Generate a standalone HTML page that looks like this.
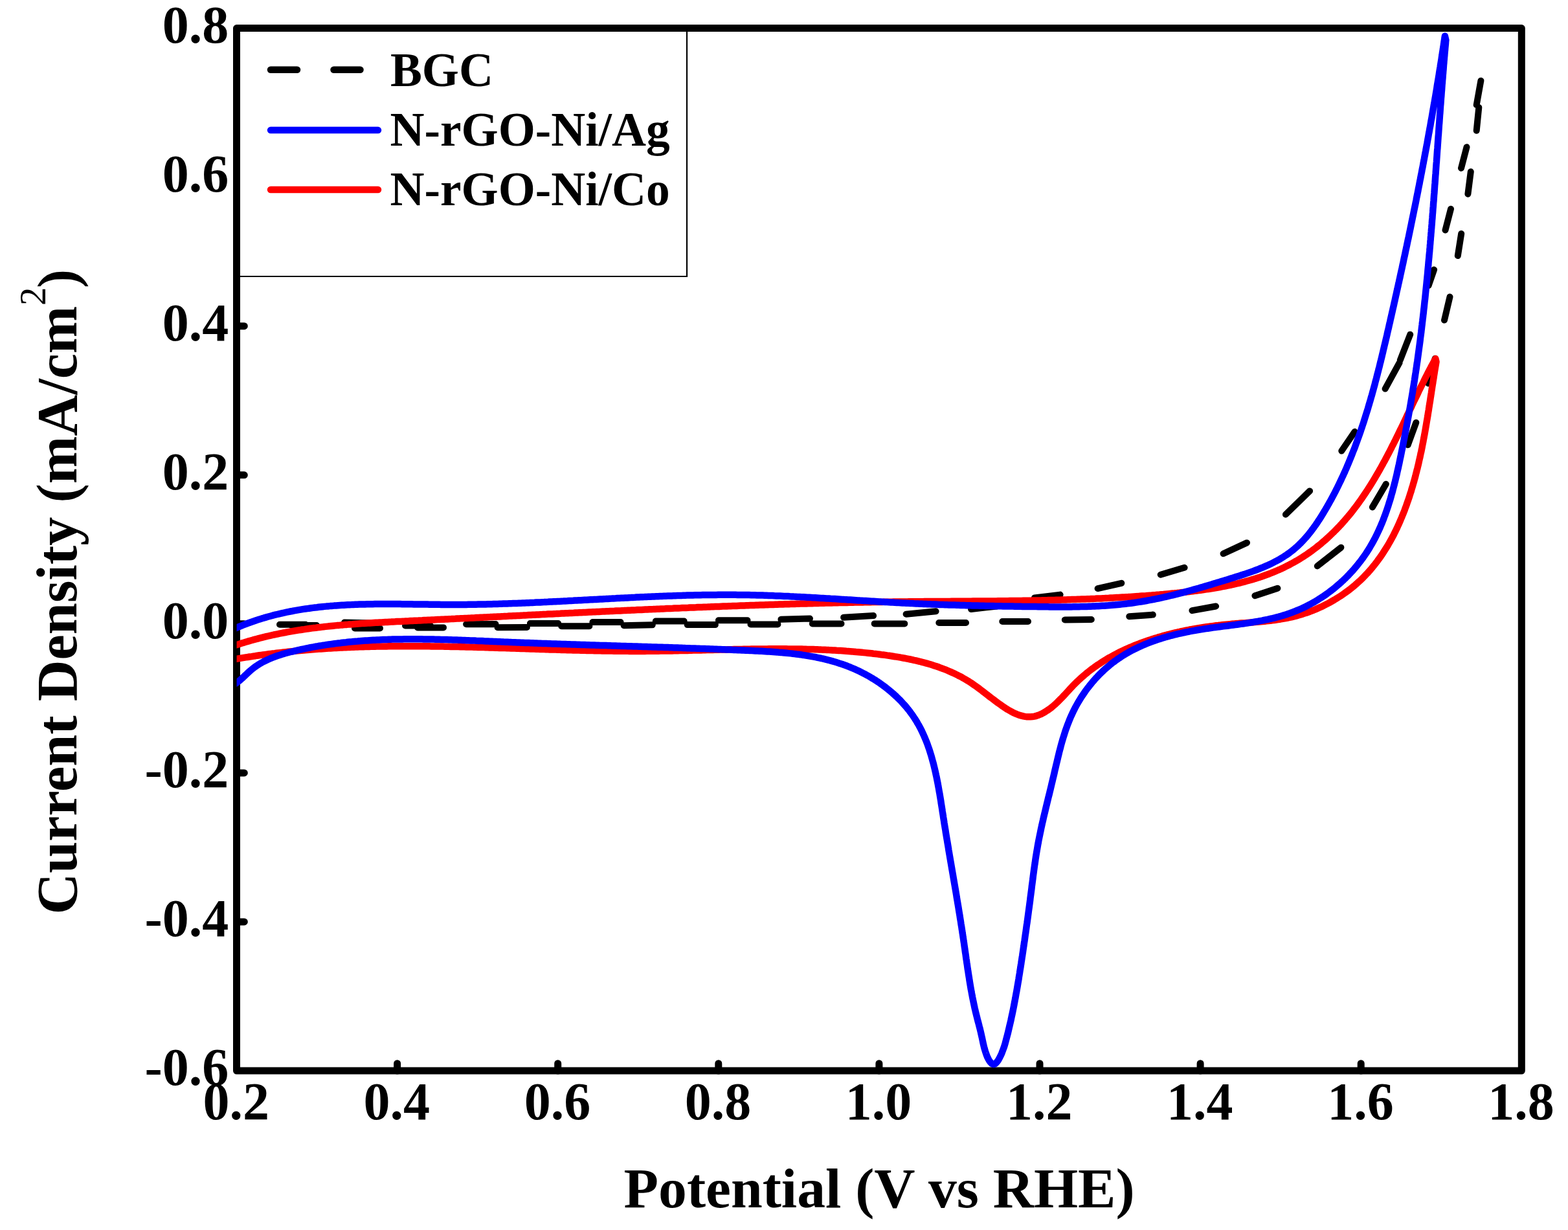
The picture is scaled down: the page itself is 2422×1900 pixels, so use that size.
<!DOCTYPE html><html><head><meta charset="utf-8"><style>html,body{margin:0;padding:0;background:#fff;}svg{display:block}</style></head><body>
<svg width="2422" height="1900" viewBox="0 0 2422 1900">
<rect x="0" y="0" width="2422" height="1900" fill="#fff"/>
<rect x="365.5" y="43.6" width="1984.8" height="1610.4" fill="none" stroke="#000" stroke-width="11.0" stroke-linejoin="round"/>
<g stroke="#000" stroke-width="11.0" stroke-linecap="round"><line x1="613.6" y1="1654.0" x2="613.6" y2="1642.7"/><line x1="861.7" y1="1654.0" x2="861.7" y2="1642.7"/><line x1="1109.8" y1="1654.0" x2="1109.8" y2="1642.7"/><line x1="1357.9" y1="1654.0" x2="1357.9" y2="1642.7"/><line x1="1606.0" y1="1654.0" x2="1606.0" y2="1642.7"/><line x1="1854.1" y1="1654.0" x2="1854.1" y2="1642.7"/><line x1="2102.2" y1="1654.0" x2="2102.2" y2="1642.7"/><line x1="365.5" y1="273.7" x2="377.3" y2="273.7"/><line x1="365.5" y1="503.7" x2="377.3" y2="503.7"/><line x1="365.5" y1="733.8" x2="377.3" y2="733.8"/><line x1="365.5" y1="963.8" x2="377.3" y2="963.8"/><line x1="365.5" y1="1193.9" x2="377.3" y2="1193.9"/><line x1="365.5" y1="1423.9" x2="377.3" y2="1423.9"/></g>
<rect x="371" y="49" width="690.0" height="378.0" fill="#fff"/>
<path d="M365.5,43.6 H1061.0 V427.0 H365.5" fill="none" stroke="#000" stroke-width="2.2"/>
<g stroke-linecap="round" stroke-width="10.5">
<line x1="418" y1="107.8" x2="459" y2="107.8" stroke="#000"/>
<line x1="515.5" y1="107.8" x2="556.5" y2="107.8" stroke="#000"/>
<line x1="418" y1="201.1" x2="584" y2="201.1" stroke="#0000ff"/>
<line x1="418" y1="293" x2="584" y2="293" stroke="#ff0000"/>
</g>
<g font-family="'Liberation Serif','Times New Roman',serif" font-weight="bold" font-size="73.4" fill="#000">
<text x="602.9" y="132.6">BGC</text>
<text x="602.6" y="225.2">N-rGO-Ni/Ag</text>
<text x="602.6" y="317.2">N-rGO-Ni/Co</text>
</g>
<defs><clipPath id="cx"><rect x="365.6" y="0" width="2100" height="1900"/></clipPath></defs>
<g fill="none" stroke-linejoin="round" stroke-linecap="butt" clip-path="url(#cx)">
<path d="M432.0,964.8L472.0,964.8M450.0,966.0L489.0,966.0M532.0,961.6L572.0,962.4M548.0,970.5L587.0,970.5M626.0,966.5L665.0,966.5M645.0,969.4L685.0,969.4M720.1,964.3L765.5,964.0M768.5,969.3L813.9,969.0M818.9,963.1L862.2,963.0M867.2,967.2L910.4,967.2M915.4,961.0L958.6,961.0M963.6,966.2L1007.8,965.2M1012.8,959.6L1056.7,959.6M1061.7,965.1L1104.9,965.1M1109.9,958.2L1154.5,958.2M1159.5,964.4L1201.4,964.4M1206.4,956.8L1251.0,955.6M1254.9,963.4L1299.5,963.4M1303.1,953.7L1349.1,951.1M1350.7,963.4L1397.3,963.4M1399.6,948.7L1445.6,944.3M1450.3,962.0L1492.0,962.0M1500.0,941.0L1540.0,936.5M1548.3,960.0L1588.0,960.0M1598.0,923.4L1637.6,918.6M1644.8,957.5L1685.8,957.0M1695.6,909.1L1732.3,900.8M1744.3,952.2L1780.8,949.6M1792.7,887.7L1829.6,876.8M1841.4,943.2L1878.1,936.5M1889.6,855.3L1926.0,838.4M1938.4,920.3L1973.4,908.7M1985.9,794.8L2023.1,758.4M2034.8,874.4L2071.4,845.7M2072.3,696.5L2092.6,666.8M2119.9,783.4L2140.8,747.8M2139.6,600.6L2161.6,560.4M2162.8,556.3L2178.2,516.7M2174.7,687.3L2187.3,652.7M2206.3,592.2L2216.7,553.8M2206.6,441.0L2215.1,416.6M2231.0,494.6L2239.5,458.6M2232.5,355.5L2241.0,322.8M2251.8,395.1L2257.2,360.9M2257.0,259.8L2265.5,227.2M2267.4,299.7L2271.8,265.2M2280.7,162.1L2287.4,124.7M2280.7,201.8L2284.3,166.0" stroke="#000" stroke-width="10" stroke-linecap="round"/>
<path d="M356.3,999.4L359.2,998.4L362.1,997.4L365.0,996.4L367.9,995.4L370.8,994.5L373.6,993.6L376.5,992.7L379.4,991.8L382.3,990.9L385.2,990.1L388.1,989.3L391.0,988.4L394.0,987.6L396.9,986.9L399.8,986.1L402.7,985.3L405.6,984.6L408.5,983.9L411.4,983.2L414.4,982.5L417.3,981.8L420.2,981.2L423.1,980.5L426.1,979.9L429.0,979.3L431.9,978.7L434.9,978.1L437.8,977.5L440.7,977.0L443.7,976.4L446.6,975.9L449.6,975.4L452.5,974.9L455.5,974.4L458.4,973.9L461.4,973.4L464.3,973.0L467.3,972.5L470.2,972.1L473.2,971.6L476.1,971.2L479.1,970.8L482.0,970.4L485.0,970.0L488.0,969.7L490.9,969.3L493.9,969.0L496.9,968.6L499.8,968.3L502.8,967.9L505.8,967.6L508.7,967.3L511.7,967.0L514.7,966.7L517.7,966.4L520.6,966.1L523.6,965.9L526.6,965.6L529.6,965.4L532.5,965.1L535.5,964.9L538.5,964.6L541.5,964.4L544.5,964.2L547.5,963.9L550.4,963.7L553.4,963.5L556.4,963.3L559.4,963.1L562.4,962.9L565.4,962.7L568.4,962.5L571.3,962.4L574.3,962.2L577.3,962.0L580.3,961.8L583.3,961.7L586.3,961.5L589.3,961.4L592.3,961.2L595.3,961.0L598.3,960.9L601.3,960.7L604.2,960.6L607.2,960.4L610.2,960.3L613.2,960.1L616.2,960.0L619.2,959.9L622.2,959.7L625.2,959.6L628.2,959.4L631.2,959.3L634.2,959.1L637.2,959.0L640.2,958.8L643.2,958.7L646.2,958.6L649.2,958.4L652.2,958.3L655.2,958.1L658.2,958.0L661.2,957.8L664.1,957.7L667.1,957.5L670.1,957.4L673.1,957.2L676.1,957.1L679.1,957.0L682.1,956.8L685.1,956.7L688.1,956.5L691.1,956.4L694.1,956.2L697.1,956.1L700.1,955.9L703.1,955.8L706.1,955.6L709.1,955.5L712.1,955.3L715.1,955.2L718.1,955.0L721.1,954.9L724.1,954.7L727.1,954.6L730.1,954.4L733.1,954.3L736.1,954.1L739.1,954.0L742.1,953.8L745.1,953.7L748.1,953.5L751.1,953.4L754.0,953.2L757.0,953.1L760.0,952.9L763.0,952.8L766.0,952.7L769.0,952.5L772.0,952.4L775.0,952.2L778.0,952.1L781.0,951.9L784.0,951.8L787.0,951.6L790.0,951.5L793.0,951.3L796.0,951.2L799.0,951.0L802.0,950.9L805.0,950.7L808.0,950.6L811.0,950.4L814.0,950.3L817.0,950.1L820.0,950.0L823.0,949.8L826.0,949.7L829.0,949.5L832.0,949.4L835.0,949.2L838.0,949.1L841.0,948.9L844.0,948.8L847.0,948.6L850.0,948.5L853.0,948.4L856.0,948.2L859.0,948.1L862.0,947.9L865.0,947.8L868.0,947.6L871.0,947.5L874.0,947.3L877.0,947.2L880.0,947.0L883.0,946.9L886.0,946.8L889.0,946.6L892.0,946.5L895.0,946.3L898.0,946.2L901.0,946.0L904.0,945.9L907.0,945.7L910.0,945.6L913.0,945.5L916.0,945.3L919.0,945.2L922.0,945.0L924.9,944.9L927.9,944.7L930.9,944.6L933.9,944.5L936.9,944.3L939.9,944.2L942.9,944.0L945.9,943.9L948.9,943.8L951.9,943.6L954.9,943.5L957.9,943.4L960.9,943.2L963.9,943.1L966.9,942.9L969.9,942.8L972.9,942.7L975.9,942.5L978.9,942.4L981.9,942.3L984.9,942.1L987.9,942.0L990.9,941.9L993.9,941.7L996.9,941.6L999.9,941.5L1002.9,941.3L1005.9,941.2L1008.9,941.1L1011.9,940.9L1014.9,940.8L1017.9,940.7L1020.9,940.5L1023.9,940.4L1026.9,940.3L1029.9,940.1L1032.9,940.0L1035.9,939.9L1038.9,939.8L1041.9,939.6L1044.9,939.5L1047.9,939.4L1050.9,939.3L1053.9,939.1L1056.9,939.0L1059.9,938.9L1062.9,938.8L1065.9,938.6L1068.9,938.5L1071.9,938.4L1074.9,938.3L1077.9,938.1L1080.9,938.0L1083.9,937.9L1086.9,937.8L1089.9,937.7L1092.9,937.6L1095.9,937.4L1098.8,937.3L1101.8,937.2L1104.8,937.1L1107.8,937.0L1110.8,936.9L1113.8,936.7L1116.8,936.6L1119.8,936.5L1122.8,936.4L1125.8,936.3L1128.8,936.2L1131.8,936.1L1134.8,936.0L1137.8,935.9L1140.8,935.7L1143.8,935.6L1146.8,935.5L1149.8,935.4L1152.8,935.3L1155.8,935.2L1158.8,935.1L1161.8,935.0L1164.8,934.9L1167.8,934.8L1170.8,934.7L1173.8,934.6L1176.8,934.5L1179.8,934.4L1182.8,934.3L1185.8,934.2L1188.8,934.1L1191.7,934.0L1194.7,933.9L1197.7,933.8L1200.7,933.7L1203.7,933.6L1206.7,933.5L1209.7,933.4L1212.7,933.3L1215.7,933.3L1218.7,933.2L1221.7,933.1L1224.7,933.0L1227.7,932.9L1230.7,932.8L1233.7,932.7L1236.7,932.6L1239.7,932.6L1242.7,932.5L1245.7,932.4L1248.7,932.3L1251.6,932.2L1254.6,932.2L1257.6,932.1L1260.6,932.0L1263.6,931.9L1266.6,931.8L1269.6,931.8L1272.6,931.7L1275.6,931.6L1278.6,931.5L1281.6,931.5L1284.6,931.4L1287.6,931.3L1290.6,931.3L1293.6,931.2L1296.6,931.1L1299.5,931.1L1302.5,931.0L1305.5,930.9L1308.5,930.9L1311.5,930.8L1314.5,930.7L1317.5,930.7L1320.5,930.6L1323.5,930.6L1326.5,930.5L1329.5,930.4L1332.5,930.4L1335.5,930.3L1338.4,930.3L1341.4,930.2L1344.4,930.2L1347.4,930.1L1350.4,930.1L1353.4,930.0L1356.4,930.0L1359.4,929.9L1362.4,929.9L1365.4,929.8L1368.4,929.8L1371.3,929.7L1374.3,929.7L1377.3,929.7L1380.3,929.6L1383.3,929.6L1386.3,929.5L1389.3,929.5L1392.3,929.5L1395.3,929.4L1398.3,929.4L1401.2,929.4L1404.2,929.3L1407.2,929.3L1410.2,929.3L1413.2,929.3L1416.2,929.2L1419.2,929.2L1422.2,929.2L1425.2,929.2L1428.1,929.1L1431.1,929.1L1434.1,929.1L1437.1,929.1L1440.1,929.0L1443.1,929.0L1446.1,929.0L1449.1,929.0L1452.1,929.0L1455.0,928.9L1458.0,928.9L1461.0,928.9L1464.0,928.9L1467.0,928.9L1470.0,928.8L1473.0,928.8L1476.0,928.8L1478.9,928.8L1481.9,928.8L1484.9,928.7L1487.9,928.7L1490.9,928.7L1493.9,928.7L1496.9,928.7L1499.9,928.7L1502.9,928.6L1505.8,928.6L1508.8,928.6L1511.8,928.6L1514.8,928.5L1517.8,928.5L1520.8,928.5L1523.8,928.5L1526.8,928.5L1529.8,928.4L1532.7,928.4L1535.7,928.4L1538.7,928.4L1541.7,928.3L1544.7,928.3L1547.7,928.3L1550.7,928.2L1553.7,928.2L1556.7,928.2L1559.7,928.1L1562.7,928.1L1565.6,928.1L1568.6,928.0L1571.6,928.0L1574.6,927.9L1577.6,927.9L1580.6,927.8L1583.6,927.8L1586.6,927.8L1589.6,927.7L1592.6,927.7L1595.6,927.6L1598.6,927.5L1601.6,927.5L1604.6,927.4L1607.6,927.4L1610.5,927.3L1613.5,927.3L1616.5,927.2L1619.5,927.1L1622.5,927.0L1625.5,927.0L1628.5,926.9L1631.5,926.8L1634.5,926.7L1637.5,926.7L1640.5,926.6L1643.5,926.5L1646.5,926.4L1649.5,926.3L1652.5,926.2L1655.5,926.1L1658.5,926.0L1661.5,925.9L1664.5,925.8L1667.5,925.7L1670.5,925.6L1673.5,925.5L1676.5,925.4L1679.5,925.3L1682.5,925.2L1685.5,925.0L1688.5,924.9L1691.6,924.8L1694.6,924.6L1697.6,924.5L1700.6,924.4L1703.6,924.2L1706.6,924.1L1709.6,923.9L1712.6,923.8L1715.6,923.6L1718.6,923.5L1721.6,923.3L1724.6,923.1L1727.7,923.0L1730.7,922.8L1733.7,922.6L1736.7,922.4L1739.7,922.2L1742.7,922.1L1745.7,921.9L1748.7,921.7L1751.8,921.5L1754.8,921.3L1757.8,921.1L1760.8,920.8L1763.8,920.6L1766.8,920.4L1769.9,920.2L1772.9,919.9L1775.9,919.7L1778.9,919.5L1781.9,919.2L1785.0,919.0L1788.0,918.7L1791.0,918.5L1794.0,918.2L1797.1,918.0L1800.1,917.7L1803.1,917.4L1806.1,917.1L1809.2,916.8L1812.2,916.6L1815.2,916.3L1818.2,916.0L1821.3,915.6L1824.3,915.3L1827.3,915.0L1830.3,914.7L1833.4,914.3L1836.4,914.0L1839.4,913.6L1842.4,913.3L1845.4,912.9L1848.4,912.5L1851.4,912.1L1854.4,911.7L1857.4,911.3L1860.4,910.8L1863.4,910.4L1866.4,910.0L1869.4,909.5L1872.4,909.0L1875.4,908.5L1878.3,908.0L1881.3,907.5L1884.3,907.0L1887.2,906.4L1890.2,905.9L1893.1,905.3L1896.1,904.7L1899.0,904.1L1901.9,903.5L1904.8,902.8L1907.8,902.2L1910.7,901.5L1913.6,900.8L1916.4,900.1L1919.3,899.3L1922.2,898.6L1925.1,897.8L1927.9,897.0L1930.8,896.2L1933.6,895.4L1936.5,894.6L1939.3,893.7L1942.1,892.8L1944.9,891.9L1947.7,891.0L1950.5,890.0L1953.2,889.0L1956.0,888.0L1958.8,887.0L1961.5,886.0L1964.2,884.9L1966.9,883.8L1969.7,882.7L1972.3,881.5L1975.0,880.4L1977.7,879.2L1980.4,877.9L1983.0,876.7L1985.6,875.4L1988.3,874.1L1990.9,872.8L1993.4,871.4L1996.0,870.0L1998.6,868.6L2001.1,867.2L2003.7,865.7L2006.2,864.2L2008.7,862.7L2011.2,861.1L2013.7,859.5L2016.1,857.9L2018.6,856.3L2021.0,854.6L2023.4,852.9L2025.8,851.2L2028.2,849.4L2030.6,847.6L2032.9,845.8L2035.2,844.0L2037.6,842.1L2039.9,840.3L2042.1,838.3L2044.4,836.4L2046.7,834.5L2048.9,832.5L2051.1,830.5L2053.3,828.4L2055.5,826.4L2057.6,824.3L2059.8,822.2L2061.9,820.1L2064.0,818.0L2066.1,815.8L2068.2,813.7L2070.2,811.5L2072.3,809.3L2074.3,807.0L2076.3,804.8L2078.3,802.5L2080.2,800.2L2082.2,797.9L2084.1,795.6L2086.0,793.3L2087.9,790.9L2089.8,788.5L2091.6,786.1L2093.5,783.7L2095.3,781.3L2097.1,778.9L2098.9,776.4L2100.6,774.0L2102.4,771.5L2104.1,769.0L2105.8,766.5L2107.5,764.0L2109.2,761.5L2110.9,758.9L2112.6,756.4L2114.2,753.8L2115.8,751.3L2117.5,748.7L2119.1,746.1L2120.7,743.5L2122.2,740.9L2123.8,738.3L2125.3,735.7L2126.9,733.0L2128.4,730.4L2129.9,727.8L2131.4,725.1L2132.9,722.5L2134.4,719.8L2135.9,717.1L2137.3,714.4L2138.8,711.8L2140.2,709.1L2141.7,706.4L2143.1,703.7L2144.5,701.0L2145.9,698.3L2147.3,695.6L2148.7,692.9L2150.0,690.2L2151.4,687.5L2152.8,684.8L2154.1,682.1L2155.5,679.4L2156.8,676.7L2158.2,674.0L2159.5,671.2L2160.8,668.5L2162.1,665.8L2163.4,663.1L2164.8,660.4L2166.1,657.7L2167.4,655.0L2168.7,652.3L2170.0,649.5L2171.3,646.8L2172.5,644.1L2173.8,641.4L2175.1,638.7L2176.4,636.0L2177.7,633.3L2179.0,630.6L2180.3,627.9L2181.5,625.2L2182.8,622.5L2184.1,619.8L2185.4,617.1L2186.7,614.4L2188.0,611.8L2189.3,609.1L2190.6,606.4L2191.8,603.7L2193.1,601.1L2194.4,598.4L2195.7,595.8L2197.1,593.1L2198.4,590.5L2199.7,587.8L2201.0,585.2L2202.3,582.6L2203.7,580.0L2205.0,577.3L2206.3,574.7L2207.7,572.1L2209.1,569.5L2210.4,566.9L2211.8,564.4L2213.2,561.8L2214.6,559.2L2215.9,556.6L2217.4,554.1L2218.5,558.9L2218.0,561.9L2217.5,565.0L2217.0,568.0L2216.5,571.0L2216.0,574.0L2215.5,577.1L2215.0,580.1L2214.6,583.1L2214.1,586.1L2213.6,589.0L2213.2,592.0L2212.7,595.0L2212.2,598.0L2211.8,600.9L2211.3,603.9L2210.9,606.8L2210.4,609.8L2210.0,612.7L2209.5,615.7L2209.1,618.6L2208.6,621.6L2208.1,624.5L2207.7,627.4L2207.2,630.3L2206.8,633.3L2206.3,636.2L2205.8,639.1L2205.4,642.0L2204.9,644.9L2204.4,647.8L2203.9,650.7L2203.4,653.7L2202.9,656.6L2202.4,659.5L2201.9,662.4L2201.4,665.3L2200.9,668.2L2200.4,671.1L2199.8,674.0L2199.3,676.9L2198.7,679.8L2198.2,682.8L2197.6,685.7L2197.0,688.6L2196.5,691.5L2195.9,694.4L2195.3,697.4L2194.6,700.3L2194.0,703.2L2193.4,706.2L2192.7,709.1L2192.0,712.0L2191.4,715.0L2190.7,717.9L2190.0,720.9L2189.3,723.8L2188.5,726.7L2187.8,729.7L2187.0,732.6L2186.3,735.6L2185.5,738.5L2184.7,741.4L2183.9,744.4L2183.0,747.3L2182.2,750.2L2181.3,753.1L2180.4,756.1L2179.6,759.0L2178.6,761.9L2177.7,764.8L2176.8,767.7L2175.8,770.6L2174.8,773.5L2173.8,776.3L2172.8,779.2L2171.8,782.1L2170.7,784.9L2169.7,787.8L2168.6,790.6L2167.5,793.4L2166.3,796.2L2165.2,799.0L2164.0,801.8L2162.8,804.6L2161.6,807.4L2160.4,810.1L2159.1,812.9L2157.9,815.6L2156.6,818.3L2155.3,821.0L2153.9,823.7L2152.6,826.4L2151.2,829.0L2149.8,831.7L2148.3,834.3L2146.9,836.9L2145.4,839.5L2143.9,842.1L2142.4,844.7L2140.8,847.2L2139.2,849.7L2137.6,852.2L2136.0,854.7L2134.3,857.2L2132.7,859.6L2131.0,862.0L2129.2,864.4L2127.5,866.8L2125.7,869.2L2123.9,871.5L2122.0,873.8L2120.2,876.1L2118.3,878.4L2116.3,880.7L2114.4,882.9L2112.4,885.1L2110.4,887.2L2108.3,889.4L2106.3,891.5L2104.2,893.6L2102.0,895.7L2099.9,897.7L2097.7,899.7L2095.4,901.7L2093.2,903.7L2090.9,905.6L2088.6,907.5L2086.3,909.4L2083.9,911.2L2081.5,913.0L2079.1,914.8L2076.6,916.6L2074.2,918.3L2071.7,920.0L2069.1,921.6L2066.6,923.2L2064.0,924.8L2061.4,926.4L2058.8,927.9L2056.2,929.4L2053.6,930.9L2050.9,932.3L2048.2,933.7L2045.5,935.1L2042.8,936.4L2040.1,937.7L2037.3,938.9L2034.6,940.1L2031.8,941.3L2029.0,942.5L2026.2,943.6L2023.4,944.7L2020.5,945.7L2017.7,946.7L2014.9,947.6L2012.0,948.6L2009.1,949.4L2006.3,950.3L2003.4,951.1L2000.5,951.9L1997.6,952.6L1994.7,953.3L1991.8,953.9L1988.9,954.5L1986.0,955.1L1983.0,955.7L1980.1,956.2L1977.2,956.7L1974.2,957.1L1971.3,957.5L1968.3,958.0L1965.4,958.3L1962.4,958.7L1959.5,959.0L1956.5,959.4L1953.5,959.7L1950.6,960.0L1947.6,960.2L1944.6,960.5L1941.6,960.8L1938.7,961.0L1935.7,961.3L1932.7,961.5L1929.7,961.7L1926.7,961.9L1923.7,962.2L1920.7,962.4L1917.7,962.6L1914.7,962.8L1911.7,963.1L1908.7,963.3L1905.7,963.6L1902.7,963.8L1899.7,964.1L1896.7,964.4L1893.7,964.7L1890.7,965.0L1887.7,965.3L1884.7,965.6L1881.7,966.0L1878.7,966.3L1875.7,966.7L1872.7,967.1L1869.7,967.5L1866.7,967.9L1863.7,968.3L1860.7,968.7L1857.7,969.2L1854.7,969.7L1851.7,970.2L1848.7,970.7L1845.7,971.2L1842.7,971.7L1839.8,972.3L1836.8,972.8L1833.8,973.4L1830.9,974.0L1827.9,974.6L1825.0,975.2L1822.0,975.9L1819.1,976.5L1816.1,977.2L1813.2,977.9L1810.3,978.6L1807.4,979.4L1804.4,980.1L1801.5,980.9L1798.6,981.6L1795.7,982.4L1792.9,983.3L1790.0,984.1L1787.1,985.0L1784.2,985.8L1781.4,986.7L1778.5,987.6L1775.7,988.6L1772.9,989.5L1770.1,990.5L1767.3,991.5L1764.5,992.5L1761.7,993.5L1758.9,994.6L1756.1,995.7L1753.4,996.7L1750.6,997.9L1747.9,999.0L1745.1,1000.2L1742.4,1001.3L1739.7,1002.5L1737.0,1003.8L1734.4,1005.0L1731.7,1006.3L1729.0,1007.6L1726.4,1008.9L1723.8,1010.3L1721.2,1011.7L1718.6,1013.1L1716.0,1014.5L1713.4,1015.9L1710.8,1017.4L1708.3,1018.9L1705.8,1020.5L1703.3,1022.0L1700.8,1023.6L1698.3,1025.3L1695.8,1026.9L1693.4,1028.6L1691.0,1030.3L1688.6,1032.1L1686.2,1033.8L1683.8,1035.6L1681.4,1037.5L1679.1,1039.4L1676.8,1041.3L1674.5,1043.2L1672.2,1045.2L1670.0,1047.2L1667.7,1049.2L1665.5,1051.3L1663.3,1053.4L1661.1,1055.5L1658.9,1057.7L1656.8,1059.9L1654.7,1062.2L1652.6,1064.4L1650.5,1066.7L1648.4,1069.0L1646.3,1071.3L1644.1,1073.6L1642.0,1075.9L1639.9,1078.1L1637.7,1080.3L1635.5,1082.5L1633.3,1084.7L1631.1,1086.8L1628.8,1088.9L1626.5,1090.9L1624.1,1092.9L1621.6,1094.7L1619.2,1096.5L1616.6,1098.2L1614.0,1099.9L1611.3,1101.4L1608.6,1102.8L1605.8,1104.0L1603.1,1105.1L1600.3,1106.0L1597.5,1106.6L1594.7,1107.1L1591.9,1107.3L1589.1,1107.3L1586.3,1107.2L1583.5,1106.9L1580.8,1106.4L1578.0,1105.7L1575.3,1104.9L1572.5,1104.0L1569.8,1102.9L1567.1,1101.7L1564.4,1100.4L1561.7,1099.0L1559.1,1097.5L1556.4,1096.0L1553.8,1094.3L1551.2,1092.6L1548.6,1090.9L1546.1,1089.1L1543.5,1087.3L1541.0,1085.5L1538.5,1083.6L1536.1,1081.8L1533.6,1079.9L1531.2,1078.1L1528.7,1076.2L1526.3,1074.3L1523.9,1072.5L1521.5,1070.6L1519.1,1068.8L1516.7,1066.9L1514.3,1065.1L1511.9,1063.3L1509.5,1061.5L1507.1,1059.8L1504.6,1058.1L1502.2,1056.4L1499.7,1054.7L1497.2,1053.1L1494.7,1051.6L1492.2,1050.0L1489.6,1048.5L1487.0,1047.1L1484.5,1045.6L1481.8,1044.3L1479.2,1042.9L1476.6,1041.6L1473.9,1040.3L1471.2,1039.1L1468.5,1037.9L1465.8,1036.7L1463.1,1035.5L1460.4,1034.4L1457.6,1033.4L1454.8,1032.3L1452.1,1031.3L1449.3,1030.3L1446.4,1029.3L1443.6,1028.4L1440.8,1027.5L1437.9,1026.6L1435.1,1025.7L1432.2,1024.9L1429.3,1024.1L1426.4,1023.3L1423.6,1022.6L1420.6,1021.8L1417.7,1021.1L1414.8,1020.4L1411.9,1019.8L1408.9,1019.1L1406.0,1018.5L1403.0,1017.9L1400.1,1017.3L1397.1,1016.7L1394.1,1016.2L1391.2,1015.7L1388.2,1015.1L1385.2,1014.6L1382.2,1014.2L1379.2,1013.7L1376.2,1013.2L1373.2,1012.8L1370.2,1012.4L1367.2,1011.9L1364.2,1011.5L1361.2,1011.2L1358.2,1010.8L1355.2,1010.4L1352.2,1010.0L1349.3,1009.7L1346.3,1009.3L1343.3,1009.0L1340.3,1008.7L1337.3,1008.4L1334.3,1008.1L1331.3,1007.8L1328.3,1007.5L1325.3,1007.2L1322.3,1007.0L1319.3,1006.7L1316.3,1006.4L1313.3,1006.2L1310.3,1006.0L1307.3,1005.8L1304.3,1005.5L1301.3,1005.3L1298.3,1005.1L1295.3,1004.9L1292.3,1004.8L1289.3,1004.6L1286.3,1004.4L1283.4,1004.2L1280.4,1004.1L1277.4,1003.9L1274.4,1003.8L1271.4,1003.7L1268.4,1003.6L1265.4,1003.4L1262.4,1003.3L1259.4,1003.2L1256.4,1003.1L1253.4,1003.0L1250.4,1002.9L1247.4,1002.9L1244.5,1002.8L1241.5,1002.7L1238.5,1002.6L1235.5,1002.6L1232.5,1002.5L1229.5,1002.5L1226.5,1002.4L1223.5,1002.4L1220.5,1002.4L1217.5,1002.4L1214.5,1002.3L1211.6,1002.3L1208.6,1002.3L1205.6,1002.3L1202.6,1002.3L1199.6,1002.3L1196.6,1002.3L1193.6,1002.3L1190.6,1002.3L1187.6,1002.3L1184.7,1002.4L1181.7,1002.4L1178.7,1002.4L1175.7,1002.4L1172.7,1002.5L1169.7,1002.5L1166.7,1002.5L1163.7,1002.6L1160.7,1002.6L1157.7,1002.7L1154.8,1002.7L1151.8,1002.8L1148.8,1002.8L1145.8,1002.9L1142.8,1002.9L1139.8,1003.0L1136.8,1003.1L1133.8,1003.1L1130.8,1003.2L1127.8,1003.3L1124.9,1003.3L1121.9,1003.4L1118.9,1003.5L1115.9,1003.5L1112.9,1003.6L1109.9,1003.7L1106.9,1003.8L1103.9,1003.8L1100.9,1003.9L1097.9,1004.0L1095.0,1004.1L1092.0,1004.1L1089.0,1004.2L1086.0,1004.3L1083.0,1004.4L1080.0,1004.4L1077.0,1004.5L1074.0,1004.6L1071.0,1004.6L1068.0,1004.7L1065.0,1004.8L1062.1,1004.9L1059.1,1004.9L1056.1,1005.0L1053.1,1005.1L1050.1,1005.1L1047.1,1005.2L1044.1,1005.2L1041.1,1005.3L1038.1,1005.4L1035.1,1005.4L1032.1,1005.5L1029.1,1005.5L1026.1,1005.6L1023.1,1005.6L1020.2,1005.6L1017.2,1005.7L1014.2,1005.7L1011.2,1005.7L1008.2,1005.8L1005.2,1005.8L1002.2,1005.8L999.2,1005.8L996.2,1005.9L993.2,1005.9L990.2,1005.9L987.2,1005.9L984.2,1005.9L981.2,1005.9L978.2,1005.9L975.2,1005.9L972.2,1005.9L969.2,1005.8L966.2,1005.8L963.2,1005.8L960.2,1005.8L957.2,1005.8L954.2,1005.7L951.2,1005.7L948.2,1005.7L945.2,1005.6L942.2,1005.6L939.2,1005.5L936.2,1005.5L933.2,1005.4L930.2,1005.4L927.2,1005.3L924.2,1005.3L921.2,1005.2L918.2,1005.2L915.2,1005.1L912.2,1005.0L909.2,1005.0L906.2,1004.9L903.2,1004.8L900.2,1004.8L897.2,1004.7L894.2,1004.6L891.2,1004.6L888.2,1004.5L885.2,1004.4L882.2,1004.3L879.2,1004.2L876.2,1004.2L873.2,1004.1L870.2,1004.0L867.2,1003.9L864.2,1003.8L861.2,1003.7L858.2,1003.6L855.2,1003.5L852.2,1003.5L849.2,1003.4L846.2,1003.3L843.2,1003.2L840.2,1003.1L837.2,1003.0L834.2,1002.9L831.2,1002.8L828.2,1002.7L825.1,1002.6L822.1,1002.5L819.1,1002.4L816.1,1002.3L813.1,1002.2L810.1,1002.1L807.1,1002.0L804.1,1001.9L801.1,1001.8L798.1,1001.7L795.1,1001.6L792.1,1001.5L789.1,1001.4L786.1,1001.3L783.1,1001.2L780.1,1001.1L777.1,1001.0L774.1,1000.9L771.1,1000.9L768.1,1000.8L765.1,1000.7L762.1,1000.6L759.1,1000.5L756.1,1000.4L753.1,1000.3L750.1,1000.2L747.1,1000.1L744.1,1000.0L741.1,1000.0L738.1,999.9L735.1,999.8L732.1,999.7L729.1,999.6L726.1,999.6L723.1,999.5L720.1,999.4L717.1,999.3L714.1,999.3L711.1,999.2L708.1,999.1L705.1,999.0L702.1,999.0L699.1,998.9L696.1,998.9L693.1,998.8L690.1,998.7L687.1,998.7L684.1,998.6L681.1,998.6L678.1,998.5L675.1,998.5L672.1,998.5L669.1,998.4L666.1,998.4L663.1,998.3L660.1,998.3L657.1,998.3L654.1,998.3L651.1,998.2L648.1,998.2L645.1,998.2L642.1,998.2L639.1,998.2L636.1,998.2L633.1,998.2L630.1,998.2L627.1,998.2L624.1,998.2L621.1,998.2L618.1,998.2L615.1,998.2L612.1,998.2L609.1,998.2L606.1,998.3L603.2,998.3L600.2,998.3L597.2,998.4L594.2,998.4L591.2,998.5L588.2,998.5L585.2,998.6L582.2,998.6L579.2,998.7L576.2,998.8L573.2,998.8L570.2,998.9L567.3,999.0L564.3,999.1L561.3,999.2L558.3,999.2L555.3,999.3L552.3,999.4L549.3,999.6L546.3,999.7L543.4,999.8L540.4,999.9L537.4,1000.0L534.4,1000.2L531.4,1000.3L528.4,1000.4L525.4,1000.6L522.5,1000.8L519.5,1000.9L516.5,1001.1L513.5,1001.2L510.5,1001.4L507.5,1001.6L504.6,1001.8L501.6,1002.0L498.6,1002.2L495.6,1002.4L492.6,1002.6L489.7,1002.8L486.7,1003.0L483.7,1003.3L480.7,1003.5L477.7,1003.7L474.8,1004.0L471.8,1004.2L468.8,1004.5L465.8,1004.7L462.9,1005.0L459.9,1005.3L456.9,1005.6L453.9,1005.9L451.0,1006.2L448.0,1006.5L445.0,1006.8L442.0,1007.1L439.1,1007.4L436.1,1007.8L433.1,1008.1L430.2,1008.4L427.2,1008.8L424.2,1009.2L421.3,1009.5L418.3,1009.9L415.3,1010.3L412.4,1010.7L409.4,1011.1L406.4,1011.5L403.5,1011.9L400.5,1012.3L397.5,1012.7L394.6,1013.2L391.6,1013.6L388.6,1014.1L385.7,1014.5L382.7,1015.0L379.8,1015.4L376.8,1015.9L373.8,1016.4L370.9,1016.9L367.9,1017.4L365.0,1017.9L362.0,1018.5L359.0,1019.0L356.1,1019.5" stroke="#ff0000" stroke-width="10.5"/>
<path d="M359.5,972.3L362.3,971.1L365.1,969.8L368.0,968.6L370.8,967.5L373.6,966.3L376.5,965.2L379.3,964.1L382.1,963.0L385.0,962.0L387.8,961.0L390.7,960.0L393.5,959.0L396.4,958.0L399.3,957.1L402.1,956.2L405.0,955.3L407.9,954.4L410.7,953.6L413.6,952.8L416.5,952.0L419.4,951.2L422.3,950.4L425.2,949.7L428.1,949.0L431.0,948.3L433.9,947.6L436.8,947.0L439.7,946.3L442.6,945.7L445.5,945.1L448.4,944.5L451.3,944.0L454.3,943.4L457.2,942.9L460.1,942.4L463.0,941.9L466.0,941.4L468.9,940.9L471.8,940.5L474.8,940.1L477.7,939.7L480.7,939.3L483.6,938.9L486.6,938.5L489.5,938.2L492.5,937.8L495.4,937.5L498.4,937.2L501.3,936.9L504.3,936.6L507.3,936.4L510.2,936.1L513.2,935.9L516.2,935.6L519.1,935.4L522.1,935.2L525.1,935.0L528.1,934.8L531.0,934.7L534.0,934.5L537.0,934.3L540.0,934.2L543.0,934.1L546.0,933.9L548.9,933.8L551.9,933.7L554.9,933.6L557.9,933.5L560.9,933.5L563.9,933.4L566.9,933.3L569.9,933.3L572.9,933.2L575.9,933.2L578.9,933.1L581.9,933.1L584.9,933.1L587.9,933.1L590.9,933.0L593.9,933.0L596.9,933.0L599.9,933.0L602.9,933.0L605.9,933.1L609.0,933.1L612.0,933.1L615.0,933.1L618.0,933.1L621.0,933.2L624.0,933.2L627.0,933.2L630.0,933.3L633.0,933.3L636.1,933.3L639.1,933.4L642.1,933.4L645.1,933.4L648.1,933.5L651.1,933.5L654.1,933.6L657.2,933.6L660.2,933.6L663.2,933.7L666.2,933.7L669.2,933.8L672.2,933.8L675.2,933.8L678.3,933.8L681.3,933.9L684.3,933.9L687.3,933.9L690.3,933.9L693.3,933.9L696.3,933.9L699.3,934.0L702.3,934.0L705.4,933.9L708.4,933.9L711.4,933.9L714.4,933.9L717.4,933.9L720.4,933.9L723.4,933.8L726.4,933.8L729.4,933.8L732.4,933.7L735.4,933.7L738.4,933.6L741.4,933.6L744.4,933.5L747.4,933.4L750.4,933.4L753.4,933.3L756.4,933.2L759.4,933.2L762.4,933.1L765.4,933.0L768.4,932.9L771.4,932.8L774.4,932.7L777.4,932.6L780.4,932.5L783.4,932.4L786.4,932.3L789.4,932.2L792.4,932.1L795.4,932.0L798.4,931.9L801.4,931.8L804.4,931.7L807.4,931.5L810.4,931.4L813.4,931.3L816.4,931.2L819.4,931.0L822.4,930.9L825.4,930.8L828.4,930.6L831.3,930.5L834.3,930.4L837.3,930.2L840.3,930.1L843.3,929.9L846.3,929.8L849.3,929.6L852.3,929.5L855.3,929.3L858.3,929.2L861.2,929.0L864.2,928.9L867.2,928.7L870.2,928.6L873.2,928.4L876.2,928.3L879.2,928.1L882.2,927.9L885.2,927.8L888.1,927.6L891.1,927.5L894.1,927.3L897.1,927.2L900.1,927.0L903.1,926.8L906.1,926.7L909.1,926.5L912.0,926.3L915.0,926.2L918.0,926.0L921.0,925.9L924.0,925.7L927.0,925.5L930.0,925.4L932.9,925.2L935.9,925.1L938.9,924.9L941.9,924.7L944.9,924.6L947.9,924.4L950.9,924.3L953.8,924.1L956.8,924.0L959.8,923.8L962.8,923.7L965.8,923.5L968.8,923.4L971.8,923.2L974.7,923.1L977.7,922.9L980.7,922.8L983.7,922.6L986.7,922.5L989.7,922.3L992.7,922.2L995.6,922.1L998.6,921.9L1001.6,921.8L1004.6,921.7L1007.6,921.5L1010.6,921.4L1013.6,921.3L1016.5,921.2L1019.5,921.0L1022.5,920.9L1025.5,920.8L1028.5,920.7L1031.5,920.6L1034.5,920.5L1037.4,920.4L1040.4,920.3L1043.4,920.2L1046.4,920.1L1049.4,920.0L1052.4,919.9L1055.4,919.8L1058.4,919.7L1061.3,919.6L1064.3,919.6L1067.3,919.5L1070.3,919.4L1073.3,919.3L1076.3,919.3L1079.3,919.2L1082.3,919.2L1085.3,919.1L1088.2,919.1L1091.2,919.0L1094.2,919.0L1097.2,918.9L1100.2,918.9L1103.2,918.9L1106.2,918.9L1109.2,918.8L1112.2,918.8L1115.2,918.8L1118.2,918.8L1121.2,918.8L1124.2,918.8L1127.1,918.8L1130.1,918.8L1133.1,918.8L1136.1,918.8L1139.1,918.9L1142.1,918.9L1145.1,918.9L1148.1,919.0L1151.1,919.0L1154.1,919.1L1157.1,919.1L1160.1,919.2L1163.1,919.2L1166.1,919.3L1169.1,919.4L1172.1,919.5L1175.1,919.6L1178.1,919.6L1181.1,919.7L1184.1,919.8L1187.1,919.9L1190.1,920.0L1193.1,920.1L1196.1,920.3L1199.1,920.4L1202.1,920.5L1205.1,920.6L1208.1,920.7L1211.1,920.9L1214.1,921.0L1217.1,921.1L1220.1,921.3L1223.1,921.4L1226.1,921.6L1229.1,921.7L1232.1,921.9L1235.1,922.0L1238.1,922.2L1241.1,922.3L1244.1,922.5L1247.1,922.7L1250.1,922.8L1253.1,923.0L1256.1,923.2L1259.2,923.3L1262.2,923.5L1265.2,923.7L1268.2,923.9L1271.2,924.0L1274.2,924.2L1277.2,924.4L1280.2,924.6L1283.2,924.8L1286.2,924.9L1289.2,925.1L1292.2,925.3L1295.2,925.5L1298.2,925.7L1301.2,925.9L1304.2,926.1L1307.2,926.2L1310.2,926.4L1313.2,926.6L1316.2,926.8L1319.2,927.0L1322.2,927.2L1325.2,927.4L1328.2,927.6L1331.2,927.7L1334.2,927.9L1337.2,928.1L1340.2,928.3L1343.2,928.5L1346.2,928.7L1349.2,928.8L1352.2,929.0L1355.2,929.2L1358.2,929.4L1361.2,929.6L1364.2,929.7L1367.1,929.9L1370.1,930.1L1373.1,930.3L1376.1,930.4L1379.1,930.6L1382.1,930.8L1385.1,930.9L1388.1,931.1L1391.1,931.2L1394.1,931.4L1397.1,931.5L1400.1,931.7L1403.0,931.8L1406.0,932.0L1409.0,932.1L1412.0,932.3L1415.0,932.4L1418.0,932.5L1421.0,932.7L1423.9,932.8L1426.9,932.9L1429.9,933.0L1432.9,933.2L1435.9,933.3L1438.9,933.4L1441.8,933.5L1444.8,933.6L1447.8,933.7L1450.8,933.9L1453.8,934.0L1456.8,934.1L1459.7,934.2L1462.7,934.3L1465.7,934.4L1468.7,934.5L1471.7,934.6L1474.7,934.6L1477.6,934.7L1480.6,934.8L1483.6,934.9L1486.6,935.0L1489.6,935.1L1492.6,935.2L1495.5,935.2L1498.5,935.3L1501.5,935.4L1504.5,935.5L1507.5,935.5L1510.5,935.6L1513.5,935.7L1516.4,935.7L1519.4,935.8L1522.4,935.9L1525.4,935.9L1528.4,936.0L1531.4,936.1L1534.4,936.1L1537.4,936.2L1540.4,936.2L1543.3,936.3L1546.3,936.3L1549.3,936.4L1552.3,936.4L1555.3,936.5L1558.3,936.5L1561.3,936.6L1564.3,936.6L1567.3,936.7L1570.3,936.7L1573.3,936.8L1576.3,936.8L1579.3,936.9L1582.3,936.9L1585.3,936.9L1588.3,937.0L1591.3,937.0L1594.3,937.1L1597.3,937.1L1600.4,937.1L1603.4,937.2L1606.4,937.2L1609.4,937.2L1612.4,937.3L1615.4,937.3L1618.4,937.3L1621.5,937.4L1624.5,937.4L1627.5,937.4L1630.5,937.4L1633.5,937.4L1636.5,937.4L1639.6,937.4L1642.6,937.4L1645.6,937.4L1648.6,937.4L1651.6,937.4L1654.7,937.4L1657.7,937.3L1660.7,937.3L1663.7,937.3L1666.7,937.2L1669.7,937.1L1672.7,937.1L1675.7,937.0L1678.8,936.9L1681.8,936.8L1684.8,936.7L1687.8,936.6L1690.8,936.5L1693.8,936.3L1696.8,936.2L1699.8,936.0L1702.8,935.8L1705.8,935.7L1708.7,935.5L1711.7,935.3L1714.7,935.0L1717.7,934.8L1720.7,934.6L1723.6,934.3L1726.6,934.0L1729.6,933.7L1732.6,933.4L1735.5,933.1L1738.5,932.8L1741.4,932.4L1744.4,932.0L1747.3,931.7L1750.3,931.3L1753.2,930.8L1756.2,930.4L1759.1,929.9L1762.0,929.5L1765.0,929.0L1767.9,928.5L1770.8,928.0L1773.7,927.4L1776.6,926.9L1779.5,926.3L1782.5,925.8L1785.4,925.2L1788.3,924.6L1791.2,924.0L1794.1,923.3L1797.0,922.7L1799.9,922.0L1802.8,921.4L1805.7,920.7L1808.6,920.0L1811.4,919.3L1814.3,918.6L1817.2,917.9L1820.1,917.1L1823.0,916.4L1825.9,915.6L1828.8,914.9L1831.7,914.1L1834.5,913.3L1837.4,912.5L1840.3,911.7L1843.2,910.9L1846.1,910.1L1849.0,909.3L1851.9,908.5L1854.8,907.6L1857.7,906.8L1860.5,905.9L1863.4,905.1L1866.3,904.2L1869.2,903.4L1872.1,902.5L1875.0,901.6L1877.9,900.7L1880.8,899.8L1883.7,899.0L1886.6,898.1L1889.5,897.2L1892.5,896.3L1895.4,895.4L1898.3,894.5L1901.2,893.6L1904.1,892.7L1907.1,891.7L1910.0,890.8L1912.9,889.9L1915.8,889.0L1918.7,888.0L1921.7,887.1L1924.6,886.1L1927.5,885.1L1930.4,884.1L1933.3,883.1L1936.1,882.1L1939.0,881.0L1941.8,880.0L1944.7,878.9L1947.5,877.7L1950.3,876.6L1953.1,875.4L1955.9,874.2L1958.6,873.0L1961.3,871.7L1964.1,870.4L1966.7,869.1L1969.4,867.7L1972.0,866.3L1974.7,864.9L1977.2,863.4L1979.8,861.9L1982.3,860.3L1984.8,858.7L1987.3,857.1L1989.7,855.4L1992.1,853.7L1994.4,851.9L1996.7,850.1L1999.0,848.2L2001.2,846.3L2003.4,844.4L2005.6,842.4L2007.7,840.3L2009.8,838.2L2011.8,836.1L2013.8,834.0L2015.8,831.8L2017.8,829.6L2019.7,827.3L2021.6,825.0L2023.4,822.7L2025.2,820.4L2027.0,818.0L2028.8,815.6L2030.5,813.2L2032.3,810.8L2034.0,808.3L2035.6,805.8L2037.3,803.3L2038.9,800.8L2040.5,798.3L2042.1,795.7L2043.7,793.2L2045.2,790.6L2046.8,788.0L2048.3,785.4L2049.8,782.8L2051.3,780.2L2052.8,777.6L2054.2,775.0L2055.7,772.4L2057.1,769.8L2058.5,767.1L2059.9,764.5L2061.3,761.8L2062.7,759.2L2064.0,756.5L2065.4,753.8L2066.7,751.2L2068.0,748.5L2069.3,745.8L2070.6,743.1L2071.9,740.4L2073.1,737.7L2074.4,735.0L2075.6,732.3L2076.9,729.6L2078.1,726.8L2079.3,724.1L2080.5,721.3L2081.6,718.6L2082.8,715.9L2083.9,713.1L2085.1,710.3L2086.2,707.6L2087.3,704.8L2088.4,702.0L2089.5,699.2L2090.6,696.4L2091.7,693.7L2092.8,690.9L2093.8,688.1L2094.8,685.3L2095.9,682.4L2096.9,679.6L2097.9,676.8L2098.9,674.0L2099.9,671.2L2100.9,668.3L2101.9,665.5L2102.8,662.7L2103.8,659.8L2104.7,657.0L2105.7,654.1L2106.6,651.3L2107.5,648.4L2108.4,645.5L2109.3,642.7L2110.2,639.8L2111.1,636.9L2112.0,634.1L2112.9,631.2L2113.7,628.3L2114.6,625.4L2115.4,622.5L2116.3,619.7L2117.1,616.8L2117.9,613.9L2118.8,611.0L2119.6,608.1L2120.4,605.2L2121.2,602.3L2122.0,599.4L2122.8,596.5L2123.6,593.6L2124.3,590.6L2125.1,587.7L2125.9,584.8L2126.6,581.9L2127.4,579.0L2128.1,576.1L2128.9,573.1L2129.6,570.2L2130.4,567.3L2131.1,564.4L2131.8,561.4L2132.6,558.5L2133.3,555.6L2134.0,552.7L2134.7,549.7L2135.4,546.8L2136.1,543.9L2136.8,540.9L2137.5,538.0L2138.2,535.1L2138.9,532.1L2139.6,529.2L2140.3,526.3L2141.0,523.3L2141.7,520.4L2142.4,517.4L2143.0,514.5L2143.7,511.6L2144.4,508.6L2145.1,505.7L2145.7,502.8L2146.4,499.8L2147.1,496.9L2147.7,494.0L2148.4,491.0L2149.1,488.1L2149.7,485.2L2150.4,482.2L2151.1,479.3L2151.7,476.4L2152.4,473.5L2153.1,470.5L2153.7,467.6L2154.4,464.7L2155.0,461.7L2155.7,458.8L2156.3,455.9L2157.0,453.0L2157.6,450.0L2158.3,447.1L2158.9,444.2L2159.6,441.3L2160.2,438.3L2160.9,435.4L2161.5,432.5L2162.2,429.6L2162.8,426.6L2163.4,423.7L2164.1,420.8L2164.7,417.9L2165.4,414.9L2166.0,412.0L2166.6,409.1L2167.3,406.2L2167.9,403.2L2168.5,400.3L2169.1,397.4L2169.8,394.5L2170.4,391.6L2171.0,388.6L2171.6,385.7L2172.3,382.8L2172.9,379.9L2173.5,376.9L2174.1,374.0L2174.7,371.1L2175.4,368.2L2176.0,365.3L2176.6,362.3L2177.2,359.4L2177.8,356.5L2178.4,353.6L2179.0,350.6L2179.6,347.7L2180.2,344.8L2180.8,341.9L2181.4,338.9L2182.0,336.0L2182.6,333.1L2183.2,330.2L2183.8,327.3L2184.4,324.3L2185.0,321.4L2185.6,318.5L2186.2,315.6L2186.8,312.6L2187.4,309.7L2187.9,306.8L2188.5,303.9L2189.1,300.9L2189.7,298.0L2190.3,295.1L2190.8,292.1L2191.4,289.2L2192.0,286.3L2192.6,283.4L2193.1,280.4L2193.7,277.5L2194.3,274.6L2194.8,271.6L2195.4,268.7L2196.0,265.8L2196.5,262.8L2197.1,259.9L2197.7,257.0L2198.2,254.0L2198.8,251.1L2199.3,248.2L2199.9,245.2L2200.4,242.3L2201.0,239.4L2201.5,236.4L2202.1,233.5L2202.6,230.6L2203.2,227.6L2203.7,224.7L2204.3,221.7L2204.8,218.8L2205.3,215.9L2205.9,212.9L2206.4,210.0L2206.9,207.0L2207.5,204.1L2208.0,201.1L2208.5,198.2L2209.1,195.3L2209.6,192.3L2210.1,189.4L2210.6,186.4L2211.2,183.5L2211.7,180.5L2212.2,177.6L2212.7,174.6L2213.2,171.7L2213.7,168.7L2214.2,165.8L2214.7,162.8L2215.3,159.8L2215.8,156.9L2216.3,153.9L2216.8,151.0L2217.3,148.0L2217.8,145.0L2218.3,142.1L2218.8,139.1L2219.3,136.2L2219.7,133.2L2220.2,130.2L2220.7,127.3L2221.2,124.3L2221.7,121.3L2222.2,118.3L2222.7,115.4L2223.1,112.4L2223.6,109.4L2224.1,106.5L2224.6,103.5L2225.0,100.5L2225.5,97.5L2226.0,94.5L2226.5,91.6L2226.9,88.6L2227.4,85.6L2227.8,82.6L2228.3,79.6L2228.8,76.6L2229.2,73.6L2229.7,70.7L2230.1,67.7L2230.6,64.7L2231.0,61.7L2231.5,58.7L2231.9,55.7L2233.4,62.1L2233.1,65.1L2232.9,68.1L2232.6,71.0L2232.3,74.0L2232.1,77.0L2231.8,79.9L2231.5,82.9L2231.3,85.9L2231.0,88.9L2230.8,91.8L2230.5,94.8L2230.3,97.8L2230.0,100.7L2229.8,103.7L2229.6,106.7L2229.3,109.7L2229.1,112.7L2228.8,115.6L2228.6,118.6L2228.4,121.6L2228.1,124.6L2227.9,127.6L2227.6,130.5L2227.4,133.5L2227.2,136.5L2227.0,139.5L2226.7,142.5L2226.5,145.5L2226.3,148.4L2226.0,151.4L2225.8,154.4L2225.6,157.4L2225.4,160.4L2225.1,163.4L2224.9,166.4L2224.7,169.4L2224.5,172.4L2224.3,175.3L2224.0,178.3L2223.8,181.3L2223.6,184.3L2223.4,187.3L2223.2,190.3L2222.9,193.3L2222.7,196.3L2222.5,199.3L2222.3,202.3L2222.1,205.3L2221.9,208.3L2221.6,211.3L2221.4,214.3L2221.2,217.3L2221.0,220.3L2220.8,223.2L2220.6,226.2L2220.4,229.2L2220.1,232.2L2219.9,235.2L2219.7,238.2L2219.5,241.2L2219.3,244.2L2219.1,247.2L2218.9,250.2L2218.6,253.2L2218.4,256.2L2218.2,259.2L2218.0,262.2L2217.8,265.2L2217.6,268.2L2217.3,271.2L2217.1,274.2L2216.9,277.2L2216.7,280.2L2216.5,283.2L2216.2,286.2L2216.0,289.2L2215.8,292.2L2215.6,295.2L2215.4,298.2L2215.1,301.2L2214.9,304.2L2214.7,307.2L2214.5,310.2L2214.2,313.2L2214.0,316.2L2213.8,319.2L2213.5,322.2L2213.3,325.2L2213.1,328.2L2212.8,331.2L2212.6,334.2L2212.4,337.2L2212.1,340.2L2211.9,343.2L2211.7,346.2L2211.4,349.2L2211.2,352.2L2210.9,355.2L2210.7,358.2L2210.4,361.2L2210.2,364.2L2209.9,367.2L2209.7,370.2L2209.4,373.2L2209.2,376.2L2208.9,379.2L2208.7,382.2L2208.4,385.2L2208.2,388.2L2207.9,391.2L2207.6,394.1L2207.4,397.1L2207.1,400.1L2206.8,403.1L2206.5,406.1L2206.3,409.1L2206.0,412.1L2205.7,415.1L2205.4,418.1L2205.2,421.1L2204.9,424.1L2204.6,427.0L2204.3,430.0L2204.0,433.0L2203.7,436.0L2203.4,439.0L2203.1,442.0L2202.8,445.0L2202.5,447.9L2202.2,450.9L2201.9,453.9L2201.6,456.9L2201.3,459.9L2201.0,462.9L2200.6,465.8L2200.3,468.8L2200.0,471.8L2199.7,474.8L2199.3,477.8L2199.0,480.7L2198.7,483.7L2198.3,486.7L2198.0,489.7L2197.6,492.6L2197.3,495.6L2196.9,498.6L2196.6,501.6L2196.2,504.5L2195.9,507.5L2195.5,510.5L2195.2,513.4L2194.8,516.4L2194.4,519.4L2194.0,522.3L2193.7,525.3L2193.3,528.3L2192.9,531.2L2192.5,534.2L2192.1,537.1L2191.7,540.1L2191.3,543.1L2190.9,546.0L2190.5,549.0L2190.1,551.9L2189.7,554.9L2189.3,557.8L2188.8,560.8L2188.4,563.7L2188.0,566.7L2187.6,569.6L2187.1,572.6L2186.7,575.5L2186.2,578.5L2185.8,581.4L2185.3,584.4L2184.9,587.3L2184.4,590.3L2184.0,593.2L2183.5,596.2L2183.0,599.1L2182.5,602.0L2182.1,605.0L2181.6,607.9L2181.1,610.9L2180.6,613.8L2180.1,616.7L2179.6,619.7L2179.1,622.6L2178.6,625.6L2178.1,628.5L2177.6,631.4L2177.1,634.4L2176.5,637.3L2176.0,640.3L2175.5,643.2L2174.9,646.1L2174.4,649.1L2173.9,652.0L2173.3,655.0L2172.8,657.9L2172.2,660.9L2171.7,663.8L2171.1,666.8L2170.5,669.7L2170.0,672.7L2169.4,675.6L2168.8,678.6L2168.2,681.5L2167.7,684.5L2167.1,687.5L2166.5,690.4L2165.9,693.4L2165.3,696.3L2164.7,699.3L2164.1,702.3L2163.5,705.2L2162.8,708.2L2162.2,711.2L2161.6,714.2L2161.0,717.1L2160.3,720.1L2159.7,723.1L2159.0,726.0L2158.3,729.0L2157.7,732.0L2157.0,734.9L2156.3,737.9L2155.6,740.8L2154.9,743.8L2154.1,746.7L2153.4,749.7L2152.6,752.6L2151.8,755.6L2151.1,758.5L2150.3,761.4L2149.4,764.3L2148.6,767.3L2147.8,770.2L2146.9,773.1L2146.0,775.9L2145.1,778.8L2144.2,781.7L2143.2,784.6L2142.3,787.4L2141.3,790.3L2140.3,793.1L2139.3,795.9L2138.2,798.7L2137.2,801.5L2136.1,804.3L2135.0,807.1L2133.8,809.9L2132.7,812.6L2131.5,815.4L2130.2,818.1L2129.0,820.8L2127.7,823.5L2126.4,826.2L2125.1,828.8L2123.8,831.5L2122.4,834.1L2121.0,836.7L2119.5,839.3L2118.0,841.9L2116.5,844.5L2115.0,847.1L2113.4,849.6L2111.8,852.1L2110.2,854.6L2108.5,857.1L2106.8,859.5L2105.1,862.0L2103.3,864.4L2101.5,866.8L2099.7,869.1L2097.8,871.5L2095.9,873.8L2094.0,876.1L2092.1,878.4L2090.1,880.7L2088.1,882.9L2086.0,885.1L2084.0,887.3L2081.9,889.5L2079.8,891.6L2077.7,893.7L2075.5,895.8L2073.3,897.8L2071.1,899.9L2068.9,901.9L2066.6,903.8L2064.3,905.8L2062.0,907.7L2059.7,909.6L2057.3,911.5L2054.9,913.3L2052.5,915.1L2050.1,916.9L2047.7,918.6L2045.2,920.3L2042.7,922.0L2040.2,923.6L2037.7,925.2L2035.2,926.8L2032.6,928.4L2030.1,929.9L2027.5,931.3L2024.9,932.8L2022.2,934.2L2019.6,935.6L2016.9,936.9L2014.3,938.2L2011.6,939.5L2008.9,940.7L2006.2,941.9L2003.4,943.0L2000.7,944.1L1998.0,945.2L1995.2,946.3L1992.4,947.3L1989.6,948.2L1986.8,949.2L1984.0,950.1L1981.2,950.9L1978.3,951.8L1975.5,952.6L1972.6,953.3L1969.8,954.1L1966.9,954.8L1964.0,955.5L1961.1,956.1L1958.2,956.8L1955.3,957.4L1952.4,958.0L1949.5,958.6L1946.5,959.1L1943.6,959.7L1940.6,960.2L1937.7,960.7L1934.7,961.2L1931.8,961.7L1928.8,962.1L1925.8,962.6L1922.8,963.0L1919.9,963.5L1916.9,963.9L1913.9,964.3L1910.9,964.7L1907.9,965.1L1904.9,965.5L1901.9,965.9L1898.9,966.3L1895.8,966.7L1892.8,967.0L1889.8,967.4L1886.8,967.8L1883.8,968.2L1880.8,968.6L1877.7,969.0L1874.7,969.4L1871.7,969.8L1868.7,970.3L1865.7,970.7L1862.6,971.1L1859.6,971.6L1856.6,972.1L1853.6,972.5L1850.6,973.0L1847.6,973.5L1844.6,974.1L1841.6,974.6L1838.6,975.2L1835.6,975.8L1832.6,976.4L1829.6,977.0L1826.7,977.6L1823.7,978.3L1820.7,978.9L1817.8,979.6L1814.8,980.3L1811.9,981.1L1809.0,981.8L1806.0,982.6L1803.1,983.4L1800.2,984.3L1797.3,985.1L1794.5,986.0L1791.6,986.9L1788.7,987.8L1785.9,988.8L1783.1,989.8L1780.2,990.8L1777.4,991.8L1774.6,992.9L1771.9,994.0L1769.1,995.1L1766.4,996.3L1763.6,997.5L1760.9,998.7L1758.2,999.9L1755.6,1001.2L1752.9,1002.5L1750.3,1003.8L1747.6,1005.2L1745.0,1006.6L1742.5,1008.1L1739.9,1009.5L1737.4,1011.0L1734.8,1012.6L1732.3,1014.2L1729.9,1015.8L1727.4,1017.4L1725.0,1019.1L1722.6,1020.9L1720.2,1022.6L1717.8,1024.4L1715.5,1026.3L1713.2,1028.2L1710.9,1030.1L1708.7,1032.0L1706.4,1034.0L1704.2,1036.1L1702.1,1038.1L1699.9,1040.2L1697.8,1042.3L1695.7,1044.5L1693.7,1046.7L1691.6,1048.9L1689.6,1051.2L1687.7,1053.4L1685.7,1055.8L1683.8,1058.1L1682.0,1060.5L1680.1,1062.8L1678.3,1065.3L1676.5,1067.7L1674.8,1070.2L1673.1,1072.7L1671.4,1075.2L1669.8,1077.7L1668.2,1080.3L1666.6,1082.8L1665.1,1085.4L1663.6,1088.0L1662.1,1090.7L1660.7,1093.3L1659.4,1096.0L1658.0,1098.7L1656.7,1101.4L1655.5,1104.1L1654.2,1106.8L1653.0,1109.6L1651.9,1112.3L1650.8,1115.1L1649.7,1117.9L1648.6,1120.7L1647.6,1123.5L1646.6,1126.3L1645.6,1129.1L1644.7,1132.0L1643.8,1134.8L1642.9,1137.7L1642.0,1140.5L1641.2,1143.4L1640.3,1146.3L1639.5,1149.2L1638.7,1152.1L1638.0,1155.0L1637.2,1157.9L1636.4,1160.8L1635.7,1163.7L1635.0,1166.7L1634.3,1169.6L1633.6,1172.5L1632.9,1175.4L1632.2,1178.4L1631.5,1181.3L1630.8,1184.2L1630.1,1187.2L1629.4,1190.1L1628.8,1193.0L1628.1,1196.0L1627.4,1198.9L1626.7,1201.8L1626.0,1204.8L1625.3,1207.7L1624.6,1210.6L1623.9,1213.6L1623.2,1216.5L1622.5,1219.4L1621.8,1222.3L1621.1,1225.2L1620.4,1228.2L1619.6,1231.1L1618.9,1234.0L1618.2,1236.9L1617.5,1239.8L1616.8,1242.7L1616.1,1245.6L1615.4,1248.5L1614.7,1251.5L1614.0,1254.4L1613.3,1257.3L1612.6,1260.2L1611.9,1263.1L1611.3,1266.0L1610.6,1268.9L1609.9,1271.9L1609.3,1274.8L1608.6,1277.7L1608.0,1280.6L1607.4,1283.6L1606.8,1286.5L1606.2,1289.4L1605.6,1292.3L1605.0,1295.3L1604.4,1298.2L1603.9,1301.1L1603.3,1304.1L1602.8,1307.0L1602.3,1310.0L1601.8,1312.9L1601.3,1315.9L1600.8,1318.8L1600.3,1321.8L1599.9,1324.7L1599.4,1327.7L1599.0,1330.7L1598.6,1333.6L1598.1,1336.6L1597.7,1339.6L1597.3,1342.5L1596.9,1345.5L1596.5,1348.5L1596.1,1351.4L1595.7,1354.4L1595.4,1357.4L1595.0,1360.4L1594.6,1363.4L1594.2,1366.3L1593.8,1369.3L1593.5,1372.3L1593.1,1375.3L1592.7,1378.3L1592.3,1381.3L1591.9,1384.2L1591.5,1387.2L1591.2,1390.2L1590.8,1393.2L1590.4,1396.2L1590.0,1399.2L1589.6,1402.2L1589.2,1405.1L1588.8,1408.1L1588.4,1411.1L1588.0,1414.1L1587.6,1417.1L1587.2,1420.1L1586.8,1423.0L1586.4,1426.0L1585.9,1429.0L1585.5,1432.0L1585.1,1435.0L1584.7,1437.9L1584.3,1440.9L1583.8,1443.9L1583.4,1446.9L1583.0,1449.8L1582.6,1452.8L1582.1,1455.8L1581.7,1458.7L1581.3,1461.7L1580.8,1464.7L1580.4,1467.6L1580.0,1470.6L1579.5,1473.6L1579.1,1476.5L1578.6,1479.5L1578.2,1482.4L1577.7,1485.4L1577.3,1488.3L1576.8,1491.3L1576.4,1494.2L1575.9,1497.2L1575.4,1500.1L1575.0,1503.0L1574.5,1506.0L1574.0,1508.9L1573.6,1511.8L1573.1,1514.8L1572.6,1517.7L1572.1,1520.6L1571.6,1523.5L1571.1,1526.5L1570.6,1529.4L1570.1,1532.3L1569.5,1535.3L1569.0,1538.2L1568.5,1541.1L1567.9,1544.0L1567.4,1547.0L1566.8,1549.9L1566.3,1552.8L1565.7,1555.8L1565.1,1558.7L1564.5,1561.7L1563.9,1564.6L1563.3,1567.5L1562.6,1570.5L1562.0,1573.4L1561.4,1576.4L1560.7,1579.4L1560.0,1582.3L1559.3,1585.3L1558.6,1588.2L1557.9,1591.2L1557.2,1594.2L1556.5,1597.2L1555.7,1600.2L1554.9,1603.2L1554.1,1606.1L1553.3,1609.2L1552.5,1612.2L1551.6,1615.2L1550.6,1618.3L1549.5,1621.3L1548.3,1624.4L1547.1,1627.6L1545.7,1630.7L1544.1,1633.8L1542.5,1636.8L1540.8,1639.4L1539.1,1641.5L1537.3,1643.1L1535.5,1643.9L1533.7,1643.8L1531.9,1642.9L1530.2,1641.3L1528.5,1639.1L1526.9,1636.4L1525.4,1633.4L1524.1,1630.2L1522.9,1626.9L1521.8,1623.6L1520.8,1620.3L1519.9,1616.9L1519.1,1613.6L1518.4,1610.3L1517.7,1607.0L1517.0,1603.7L1516.3,1600.6L1515.6,1597.5L1514.9,1594.4L1514.2,1591.5L1513.5,1588.5L1512.7,1585.6L1512.0,1582.8L1511.3,1580.0L1510.5,1577.2L1509.8,1574.4L1509.1,1571.6L1508.4,1568.9L1507.7,1566.1L1507.0,1563.3L1506.4,1560.5L1505.7,1557.7L1505.1,1554.9L1504.5,1552.0L1503.9,1549.2L1503.3,1546.3L1502.7,1543.4L1502.1,1540.5L1501.6,1537.6L1501.0,1534.7L1500.5,1531.7L1499.9,1528.8L1499.4,1525.8L1498.9,1522.9L1498.4,1519.9L1497.9,1516.9L1497.4,1513.9L1497.0,1510.9L1496.5,1507.9L1496.0,1504.9L1495.6,1501.9L1495.1,1498.9L1494.6,1495.9L1494.2,1492.9L1493.8,1489.9L1493.3,1486.8L1492.9,1483.8L1492.4,1480.8L1492.0,1477.8L1491.6,1474.7L1491.1,1471.7L1490.7,1468.7L1490.3,1465.7L1489.8,1462.7L1489.4,1459.6L1489.0,1456.6L1488.5,1453.6L1488.1,1450.6L1487.6,1447.6L1487.2,1444.6L1486.7,1441.7L1486.3,1438.7L1485.8,1435.7L1485.4,1432.7L1484.9,1429.8L1484.4,1426.8L1484.0,1423.9L1483.5,1420.9L1483.0,1418.0L1482.6,1415.0L1482.1,1412.1L1481.6,1409.1L1481.1,1406.2L1480.7,1403.3L1480.2,1400.3L1479.7,1397.4L1479.2,1394.5L1478.7,1391.5L1478.2,1388.6L1477.7,1385.7L1477.3,1382.8L1476.8,1379.9L1476.3,1376.9L1475.8,1374.0L1475.3,1371.1L1474.8,1368.2L1474.3,1365.3L1473.8,1362.4L1473.3,1359.5L1472.8,1356.6L1472.3,1353.6L1471.8,1350.7L1471.3,1347.8L1470.8,1344.9L1470.3,1342.0L1469.8,1339.1L1469.3,1336.2L1468.8,1333.2L1468.3,1330.3L1467.8,1327.4L1467.3,1324.5L1466.8,1321.5L1466.3,1318.6L1465.8,1315.7L1465.3,1312.8L1464.9,1309.8L1464.4,1306.9L1463.9,1303.9L1463.4,1301.0L1462.9,1298.0L1462.4,1295.1L1461.9,1292.1L1461.4,1289.2L1460.9,1286.2L1460.5,1283.2L1460.0,1280.3L1459.5,1277.3L1459.0,1274.3L1458.5,1271.3L1458.1,1268.3L1457.6,1265.3L1457.1,1262.3L1456.7,1259.3L1456.2,1256.3L1455.7,1253.3L1455.3,1250.3L1454.8,1247.2L1454.3,1244.2L1453.8,1241.2L1453.4,1238.2L1452.9,1235.1L1452.4,1232.1L1451.9,1229.1L1451.4,1226.0L1450.8,1223.0L1450.3,1220.0L1449.8,1217.0L1449.2,1214.0L1448.7,1210.9L1448.1,1207.9L1447.5,1204.9L1446.9,1201.9L1446.3,1198.9L1445.6,1196.0L1445.0,1193.0L1444.3,1190.0L1443.6,1187.1L1442.9,1184.1L1442.2,1181.2L1441.4,1178.2L1440.6,1175.3L1439.8,1172.4L1439.0,1169.5L1438.2,1166.6L1437.3,1163.8L1436.4,1160.9L1435.5,1158.1L1434.5,1155.3L1433.5,1152.4L1432.5,1149.6L1431.5,1146.9L1430.4,1144.1L1429.3,1141.4L1428.1,1138.6L1426.9,1135.9L1425.7,1133.3L1424.5,1130.6L1423.2,1127.9L1421.9,1125.3L1420.5,1122.7L1419.1,1120.1L1417.6,1117.6L1416.2,1115.1L1414.6,1112.5L1413.1,1110.1L1411.4,1107.6L1409.8,1105.2L1408.1,1102.8L1406.3,1100.4L1404.6,1098.0L1402.7,1095.7L1400.9,1093.4L1399.0,1091.1L1397.0,1088.9L1395.0,1086.7L1393.0,1084.5L1391.0,1082.3L1388.9,1080.2L1386.7,1078.1L1384.6,1076.0L1382.4,1074.0L1380.2,1072.0L1377.9,1070.0L1375.6,1068.0L1373.3,1066.1L1371.0,1064.2L1368.6,1062.3L1366.2,1060.5L1363.8,1058.7L1361.4,1057.0L1358.9,1055.2L1356.4,1053.5L1353.9,1051.9L1351.4,1050.2L1348.8,1048.6L1346.2,1047.1L1343.6,1045.5L1341.0,1044.0L1338.4,1042.6L1335.8,1041.2L1333.1,1039.8L1330.4,1038.4L1327.7,1037.1L1325.0,1035.8L1322.3,1034.6L1319.6,1033.3L1316.8,1032.2L1314.1,1031.0L1311.3,1029.9L1308.6,1028.8L1305.8,1027.8L1303.0,1026.8L1300.2,1025.8L1297.4,1024.9L1294.5,1024.0L1291.7,1023.1L1288.9,1022.2L1286.0,1021.4L1283.2,1020.6L1280.3,1019.8L1277.4,1019.1L1274.5,1018.4L1271.6,1017.7L1268.7,1017.0L1265.8,1016.4L1262.9,1015.8L1260.0,1015.2L1257.1,1014.6L1254.1,1014.1L1251.2,1013.6L1248.2,1013.1L1245.3,1012.6L1242.3,1012.1L1239.3,1011.7L1236.4,1011.2L1233.4,1010.8L1230.4,1010.5L1227.4,1010.1L1224.4,1009.7L1221.4,1009.4L1218.4,1009.1L1215.4,1008.8L1212.4,1008.5L1209.4,1008.2L1206.4,1007.9L1203.4,1007.7L1200.4,1007.4L1197.4,1007.2L1194.3,1007.0L1191.3,1006.8L1188.3,1006.6L1185.3,1006.4L1182.2,1006.2L1179.2,1006.0L1176.2,1005.8L1173.1,1005.7L1170.1,1005.5L1167.1,1005.4L1164.0,1005.2L1161.0,1005.1L1158.0,1004.9L1154.9,1004.8L1151.9,1004.7L1148.9,1004.5L1145.9,1004.4L1142.8,1004.3L1139.8,1004.2L1136.8,1004.0L1133.8,1003.9L1130.7,1003.8L1127.7,1003.6L1124.7,1003.5L1121.7,1003.4L1118.7,1003.3L1115.7,1003.2L1112.7,1003.0L1109.6,1002.9L1106.6,1002.8L1103.6,1002.7L1100.6,1002.6L1097.6,1002.5L1094.6,1002.3L1091.6,1002.2L1088.6,1002.1L1085.6,1002.0L1082.6,1001.9L1079.6,1001.8L1076.6,1001.7L1073.6,1001.6L1070.6,1001.5L1067.6,1001.4L1064.6,1001.3L1061.6,1001.2L1058.6,1001.1L1055.6,1000.9L1052.6,1000.8L1049.6,1000.7L1046.6,1000.6L1043.6,1000.5L1040.6,1000.4L1037.6,1000.3L1034.6,1000.2L1031.6,1000.1L1028.7,1000.0L1025.7,999.9L1022.7,999.8L1019.7,999.8L1016.7,999.7L1013.7,999.6L1010.7,999.5L1007.7,999.4L1004.8,999.3L1001.8,999.2L998.8,999.1L995.8,999.0L992.8,998.9L989.8,998.8L986.9,998.7L983.9,998.6L980.9,998.5L977.9,998.4L974.9,998.3L972.0,998.2L969.0,998.2L966.0,998.1L963.0,998.0L960.0,997.9L957.1,997.8L954.1,997.7L951.1,997.6L948.1,997.5L945.1,997.4L942.2,997.3L939.2,997.2L936.2,997.1L933.2,997.0L930.2,997.0L927.3,996.9L924.3,996.8L921.3,996.7L918.3,996.6L915.3,996.5L912.4,996.4L909.4,996.3L906.4,996.2L903.4,996.1L900.4,996.0L897.5,995.9L894.5,995.8L891.5,995.7L888.5,995.6L885.5,995.5L882.6,995.4L879.6,995.3L876.6,995.2L873.6,995.1L870.6,995.0L867.6,994.9L864.7,994.8L861.7,994.7L858.7,994.6L855.7,994.5L852.7,994.4L849.7,994.3L846.8,994.2L843.8,994.1L840.8,994.0L837.8,993.9L834.8,993.8L831.8,993.7L828.8,993.6L825.8,993.5L822.8,993.3L819.9,993.2L816.9,993.1L813.9,993.0L810.9,992.9L807.9,992.8L804.9,992.7L801.9,992.5L798.9,992.4L795.9,992.3L792.9,992.2L789.9,992.1L786.9,991.9L783.9,991.8L780.9,991.7L777.9,991.6L774.9,991.4L771.9,991.3L768.9,991.2L765.9,991.0L762.9,990.9L759.9,990.8L756.9,990.7L753.9,990.5L750.8,990.4L747.8,990.3L744.8,990.1L741.8,990.0L738.8,989.9L735.8,989.8L732.8,989.6L729.8,989.5L726.8,989.4L723.7,989.3L720.7,989.2L717.7,989.0L714.7,988.9L711.7,988.8L708.7,988.7L705.7,988.6L702.6,988.5L699.6,988.4L696.6,988.3L693.6,988.2L690.6,988.1L687.6,988.0L684.5,987.9L681.5,987.9L678.5,987.8L675.5,987.7L672.5,987.7L669.5,987.6L666.5,987.5L663.4,987.5L660.4,987.4L657.4,987.4L654.4,987.4L651.4,987.3L648.4,987.3L645.4,987.3L642.4,987.3L639.3,987.3L636.3,987.3L633.3,987.3L630.3,987.3L627.3,987.3L624.3,987.3L621.3,987.4L618.3,987.4L615.3,987.4L612.3,987.5L609.3,987.6L606.3,987.6L603.3,987.7L600.3,987.8L597.3,987.9L594.3,988.0L591.3,988.1L588.3,988.2L585.3,988.4L582.3,988.5L579.3,988.7L576.3,988.8L573.3,989.0L570.3,989.2L567.3,989.4L564.3,989.6L561.4,989.8L558.4,990.0L555.4,990.2L552.4,990.5L549.4,990.7L546.4,991.0L543.5,991.3L540.5,991.5L537.5,991.8L534.5,992.2L531.6,992.5L528.6,992.8L525.6,993.2L522.7,993.5L519.7,993.9L516.8,994.3L513.8,994.7L510.8,995.1L507.9,995.5L504.9,995.9L502.0,996.4L499.0,996.8L496.1,997.3L493.1,997.8L490.2,998.3L487.2,998.8L484.3,999.4L481.4,999.9L478.4,1000.5L475.5,1001.1L472.6,1001.7L469.6,1002.3L466.7,1002.9L463.8,1003.5L460.9,1004.2L457.9,1004.9L455.0,1005.6L452.1,1006.3L449.2,1007.0L446.3,1007.7L443.4,1008.5L440.5,1009.3L437.6,1010.1L434.8,1011.0L431.9,1011.9L429.1,1012.8L426.3,1013.8L423.5,1014.8L420.7,1015.9L417.9,1017.0L415.2,1018.2L412.5,1019.4L409.8,1020.7L407.2,1022.0L404.5,1023.5L402.0,1024.9L399.4,1026.5L396.9,1028.1L394.4,1029.8L392.0,1031.6L389.6,1033.5L387.2,1035.5L384.9,1037.5L382.6,1039.6L380.4,1041.7L378.1,1043.9L375.9,1046.0L373.6,1048.1L371.3,1050.2L369.0,1052.1L366.6,1053.9L364.2,1055.6L361.7,1057.2L359.1,1058.5L356.5,1059.6" stroke="#0000ff" stroke-width="10.5"/>
</g>
<g font-family="'Liberation Serif','Times New Roman',serif" font-weight="bold" font-size="82" fill="#000">
<text x="353.3" y="66.0" text-anchor="end">0.8</text>
<text x="353.3" y="296.1" text-anchor="end">0.6</text>
<text x="353.3" y="526.1" text-anchor="end">0.4</text>
<text x="353.3" y="756.2" text-anchor="end">0.2</text>
<text x="353.3" y="986.2" text-anchor="end">0.0</text>
<text x="353.3" y="1216.3" text-anchor="end">-0.2</text>
<text x="353.3" y="1446.3" text-anchor="end">-0.4</text>
<text x="353.3" y="1676.4" text-anchor="end">-0.6</text>
<text x="364.7" y="1729.0" text-anchor="middle">0.2</text>
<text x="612.8" y="1729.0" text-anchor="middle">0.4</text>
<text x="860.9" y="1729.0" text-anchor="middle">0.6</text>
<text x="1109.0" y="1729.0" text-anchor="middle">0.8</text>
<text x="1357.1" y="1729.0" text-anchor="middle">1.0</text>
<text x="1605.2" y="1729.0" text-anchor="middle">1.2</text>
<text x="1853.3" y="1729.0" text-anchor="middle">1.4</text>
<text x="2101.4" y="1729.0" text-anchor="middle">1.6</text>
<text x="2349.5" y="1729.0" text-anchor="middle">1.8</text>
</g>
<text font-family="'Liberation Serif','Times New Roman',serif" font-weight="bold" font-size="87.6" x="963.6" y="1865" fill="#000">Potential (V vs RHE)</text>
<g transform="rotate(-90)" fill="#000">
<text font-family="'Liberation Serif','Times New Roman',serif" font-weight="bold" font-size="88.3" x="-1412.6" y="117.5">Current Density (mA/cm</text>
<text font-family="'Liberation Serif','Times New Roman',serif" font-size="57" x="-472" y="70">2</text>
<text font-family="'Liberation Serif','Times New Roman',serif" font-weight="bold" font-size="87.6" x="-445" y="117.5">)</text>
</g>
</svg></body></html>
